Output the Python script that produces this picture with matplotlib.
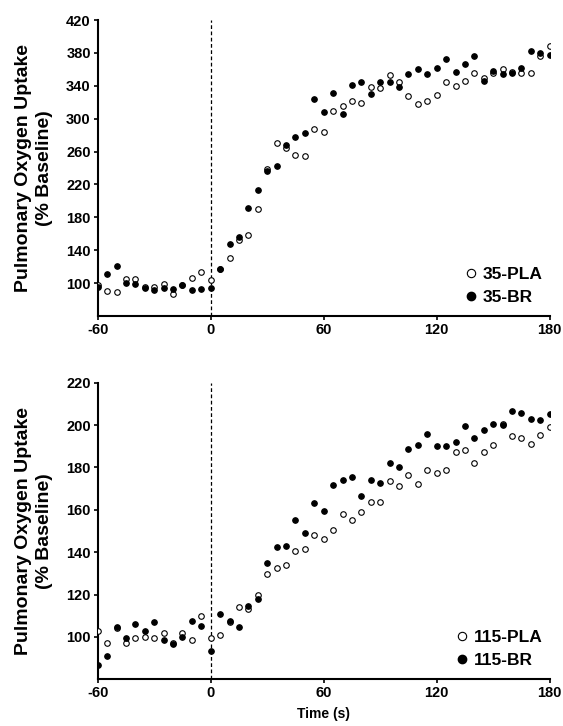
import matplotlib
matplotlib.use("Agg")
import matplotlib.pyplot as plt
from matplotlib.lines import Line2D
import numpy as np

plt.rcParams['font.family'] = ['Liberation Sans', 'DejaVu Sans']
plt.rcParams['font.weight'] = 'bold'
plt.rcParams['axes.unicode_minus'] = False

time_s = list(range(-60, 181, 5))

# Top panel: 35
pla_35 = [98, 90, 89.5, 105, 105, 95, 95.5, 99, 86.6, 98, 105.7, 113.4, 104,
          117, 130.5, 152, 159, 190, 239, 270, 264, 256, 255, 288,
          284, 309, 315, 322, 319, 338, 337, 353, 344, 327, 318, 322, 329,
          345, 340, 346, 355, 349, 355, 360, 357, 355, 356, 376, 388]
br_35 = [95, 110.6, 120.7, 100, 99, 94, 92, 94, 93, 98, 91.5, 93, 93.5,
         117, 147.5, 156, 191, 213, 236, 242, 268, 278, 283, 324,
         308, 331, 305.5, 341, 344.5, 330, 345, 345, 338, 354, 360, 354.6, 362,
         372.5, 356.6, 366, 376.5, 345.3, 358, 353.8, 355.4, 361.5, 381.8, 380, 377.8]

# Bottom panel: 115
pla_115 = [102.7, 97.2, 104, 96.9, 99.4, 100.2, 99.4, 102, 97, 102, 98.4, 110, 99.4,
           100.8, 107, 114, 113.4, 119.8, 129.6, 132.6, 134, 140.5, 141.4, 148.2,
           146.1, 150.6, 157.8, 155.1, 159.1, 163.8, 163.8, 173.7, 171.3, 176.5, 172.4,
           178.6, 177.5, 178.6, 187.1, 188.3, 181.9, 187.4, 190.6, 200.3, 194.8, 194,
           190.9, 195.3, 199.2]
br_115 = [86.6, 90.9, 104.7, 99.5, 106, 102.7, 107.2, 98.6, 96.7, 100, 107.4, 105.2, 93.2,
          110.7, 107.7, 104.7, 114.6, 118.1, 134.8, 142.4, 143.1, 155.4, 149, 163.1,
          159.4, 171.8, 173.9, 175.3, 166.3, 173.9, 172.8, 181.9, 180, 188.5, 190.4,
          195.7, 189.9, 190.2, 192.1, 199.7, 193.7, 197.8, 200.5, 200, 206.6, 205.7,
          203.1, 202.2, 205]

x_ticks = [-60, 0, 60, 120, 180]
top_yticks = list(range(100, 421, 40))
bot_yticks = list(range(100, 221, 20))

W, H = 563, 726
fig = plt.figure(figsize=(W / 100, H / 100), dpi=100)

def px_axes(left, top, right, bottom):
    return fig.add_axes([left / W, 1 - bottom / H, (right - left) / W, (bottom - top) / H])

ax1 = px_axes(97.7, 20, 549.7, 316)
ax2 = px_axes(97.7, 382.7, 549.7, 679.3)

ylabel = "Pulmonary Oxygen Uptake\n(% Baseline)"

def style(ax, ylim, yticks, pla, br, labels, leg_y):
    ax.axvline(0, color='black', linestyle=(0, (3, 2)), linewidth=0.9, zorder=1)
    ax.scatter(time_s, pla, s=16, facecolor='white', edgecolor='black', linewidth=0.8, zorder=3)
    ax.scatter(time_s, br, s=16, facecolor='black', edgecolor='black', linewidth=0.8, zorder=4)
    ax.set_xlim(-60, 180)
    ax.set_ylim(*ylim)
    ax.set_xticks(x_ticks)
    ax.set_yticks(yticks)
    for s in ['top', 'right']:
        ax.spines[s].set_visible(False)
    for s in ['left', 'bottom']:
        ax.spines[s].set_linewidth(1.5)
    ax.tick_params(axis='both', direction='out', length=3, width=1.2, labelsize=10.5, pad=2)
    for lab in ax.get_xticklabels() + ax.get_yticklabels():
        lab.set_fontweight('bold')
    ax.set_ylabel(ylabel, fontsize=14, fontweight='bold', linespacing=1.3)
    ax.yaxis.set_label_coords(-0.099, 0.5)
    handles = [Line2D([], [], marker='o', linestyle='none', markersize=6,
                      markerfacecolor='white', markeredgecolor='black', markeredgewidth=0.8),
               Line2D([], [], marker='o', linestyle='none', markersize=6,
                      markerfacecolor='black', markeredgecolor='black')]
    ax.legend(handles, labels, loc='lower right', bbox_to_anchor=(1.0, leg_y), frameon=False,
              prop={'weight': 'bold', 'size': 12.5}, handletextpad=0.1, labelspacing=0.45,
              handlelength=1.2, borderaxespad=0)

style(ax1, (60, 420), top_yticks, pla_35, br_35, ['35-PLA', '35-BR'], 0.015)
style(ax2, (80, 220), bot_yticks, pla_115, br_115, ['115-PLA', '115-BR'], 0.015)
ax2.set_xlabel("Time (s)", fontsize=10, fontweight='bold', labelpad=5)

fig.savefig("out.png", dpi=100)
